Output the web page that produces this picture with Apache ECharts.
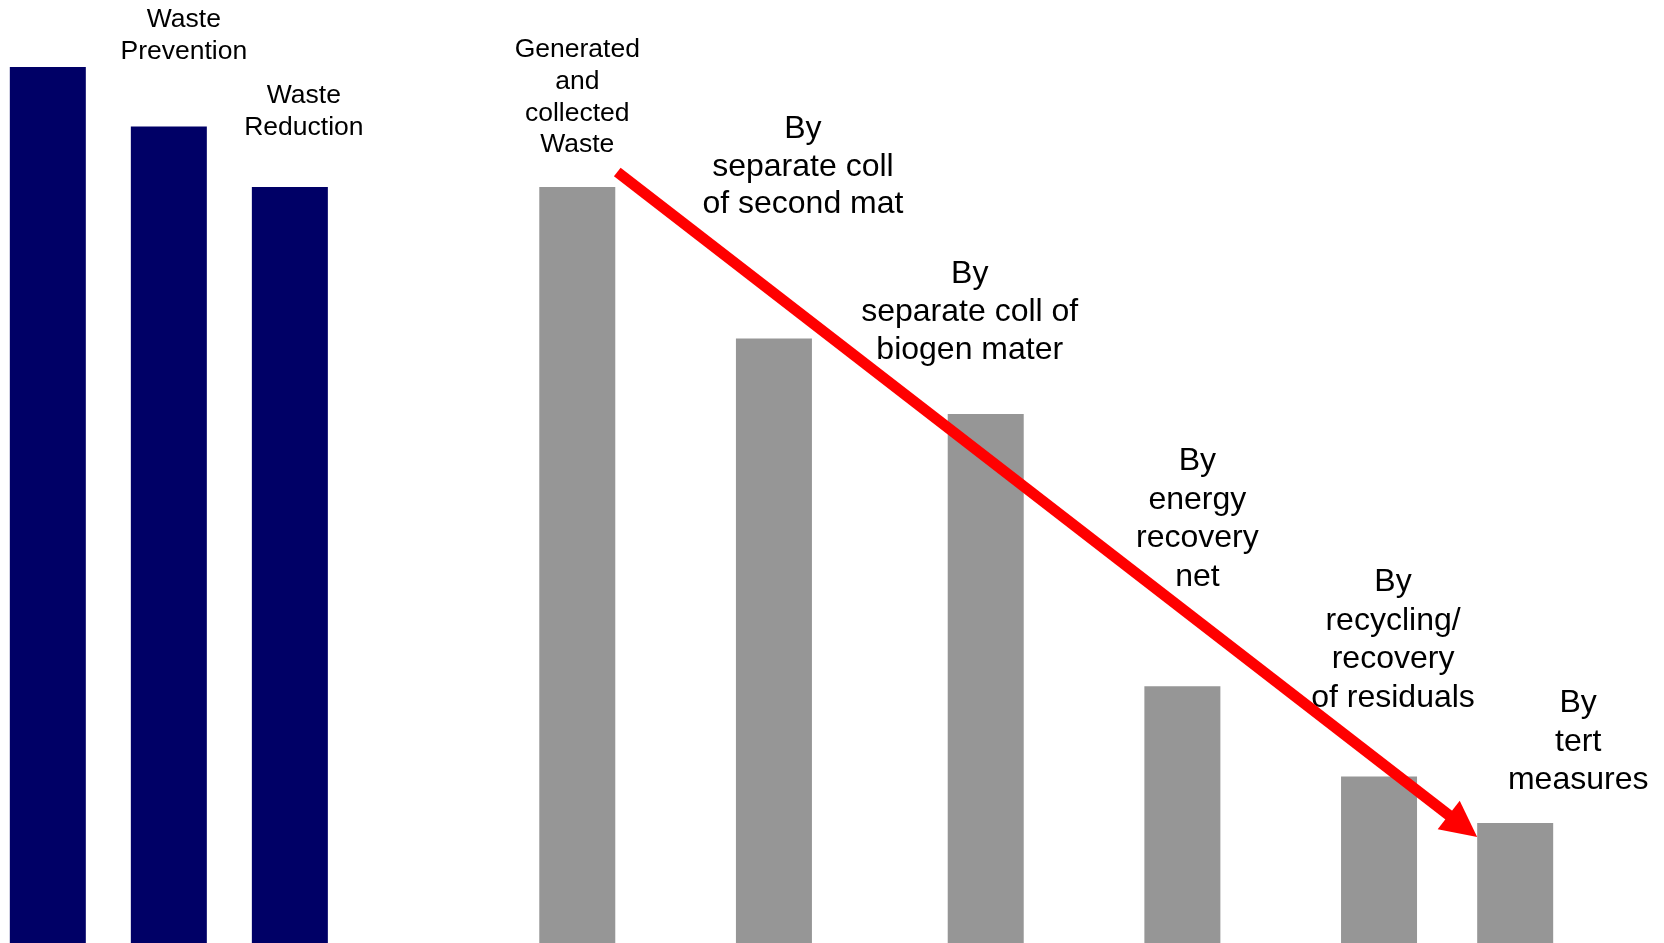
<!DOCTYPE html>
<html>
<head>
<meta charset="utf-8">
<script src="https://cdn.jsdelivr.net/npm/echarts@6/dist/echarts.min.js"></script>
<style>
  html, body { margin: 0; padding: 0; background: #ffffff; }
  #chart { width: 1664px; height: 943px; }
</style>
</head>
<body>
<div id="chart"></div>
<script>
// ---- data ----
const categories = [
  '',
  'Waste\nPrevention',
  'Waste\nReduction',
  'Generated\nand\ncollected\nWaste',
  'By\nseparate coll\nof second mat',
  'By\nseparate coll of\nbiogen mater',
  'By\nenergy\nrecovery\nnet',
  'By\nrecycling/\nrecovery\nof residuals',
  'By\ntert\nmeasures'
];
const xSlots = [0, 8, 16, 35, 48, 62, 75, 88, 97];
const avoidanceValues = [100, 93.2, 86.3];
const treatmentValues = [86.3, 69.0, 60.4, 29.3, 19.0, 13.7];

// ---- label styling (offsets relative to bar tops) ----
const labelStyle = [
  { dx: 0, dy: 0, size: 26.5, lh: 32 },
  { dx: 15, dy: -59, size: 26.5, lh: 32 },
  { dx: 14, dy: -43, size: 26.5, lh: 32 },
  { dx: 0, dy: -26, size: 26.5, lh: 31.7 },
  { dx: 29, dy: -115, size: 32, lh: 37.8 },
  { dx: -16, dy: -45, size: 32, lh: 37.8 },
  { dx: 15, dy: -90, size: 32, lh: 38.6 },
  { dx: 14, dy: -59, size: 32, lh: 38.6 },
  { dx: 63, dy: -24, size: 32, lh: 38.2 }
];

const FONT = "'Liberation Sans', Arial, Helvetica, sans-serif";

function buildItems(values, startIdx) {
  return values.map((v, i) => {
    const k = startIdx + i;
    const s = labelStyle[k];
    return {
      value: [xSlots[k], v],
      name: categories[k],
      label: {
        show: categories[k] !== '',
        formatter: categories[k],
        position: 'top',
        distance: 0,
        offset: [s.dx, s.dy],
        fontSize: s.size,
        lineHeight: s.lh,
        color: '#000000',
        fontFamily: FONT,
        align: 'center'
      }
    };
  });
}

const chart = echarts.init(document.getElementById('chart'), null, { renderer: 'canvas' });

chart.setOption({
  animation: false,
  backgroundColor: '#ffffff',
  grid: { left: 10, right: 111, top: 67, bottom: 0, containLabel: false },
  xAxis: {
    type: 'value', min: -2.5, max: 99.5, show: false,
    splitLine: { show: false }
  },
  yAxis: {
    type: 'value', min: 0, max: 100, show: false,
    splitLine: { show: false }
  },
  series: [
    {
      name: 'Avoidance',
      type: 'bar',
      barWidth: 76,
      barGap: '-100%',
      clip: false,
      itemStyle: { color: '#000066' },
      data: buildItems(avoidanceValues, 0)
    },
    {
      name: 'Treatment',
      type: 'bar',
      barWidth: 76,
      barGap: '-100%',
      clip: false,
      itemStyle: { color: '#969696' },
      data: buildItems(treatmentValues, avoidanceValues.length)
    }
  ]
});

// ---- red arrow from the "Generated" bar down to the last bar ----
const nA = avoidanceValues.length;
const pStart = chart.convertToPixel({ seriesIndex: 1 }, [xSlots[nA], treatmentValues[0]]);
const lastIdx = treatmentValues.length - 1;
const pEnd = chart.convertToPixel({ seriesIndex: 1 }, [xSlots[nA + lastIdx], treatmentValues[lastIdx]]);
const half = 38;
const tail = [pStart[0] + half + 2, pStart[1] - 15];
const tip = [pEnd[0] - half, pEnd[1] + 14];
const dx = tip[0] - tail[0], dy = tip[1] - tail[1];
const len = Math.sqrt(dx * dx + dy * dy);
const ux = dx / len, uy = dy / len;
const headLen = 36, headHalf = 18;
const base = [tip[0] - ux * headLen, tip[1] - uy * headLen];
const nx = -uy, ny = ux;

chart.setOption({
  graphic: [
    {
      type: 'line',
      z: 100,
      shape: { x1: tail[0], y1: tail[1], x2: base[0] + ux * 3, y2: base[1] + uy * 3 },
      style: { stroke: '#ff0000', lineWidth: 11, lineCap: 'butt' }
    },
    {
      type: 'polygon',
      z: 100,
      shape: {
        points: [
          tip,
          [base[0] + nx * headHalf, base[1] + ny * headHalf],
          [base[0] - nx * headHalf, base[1] - ny * headHalf]
        ]
      },
      style: { fill: '#ff0000' }
    }
  ]
});
</script>
</body>
</html>
